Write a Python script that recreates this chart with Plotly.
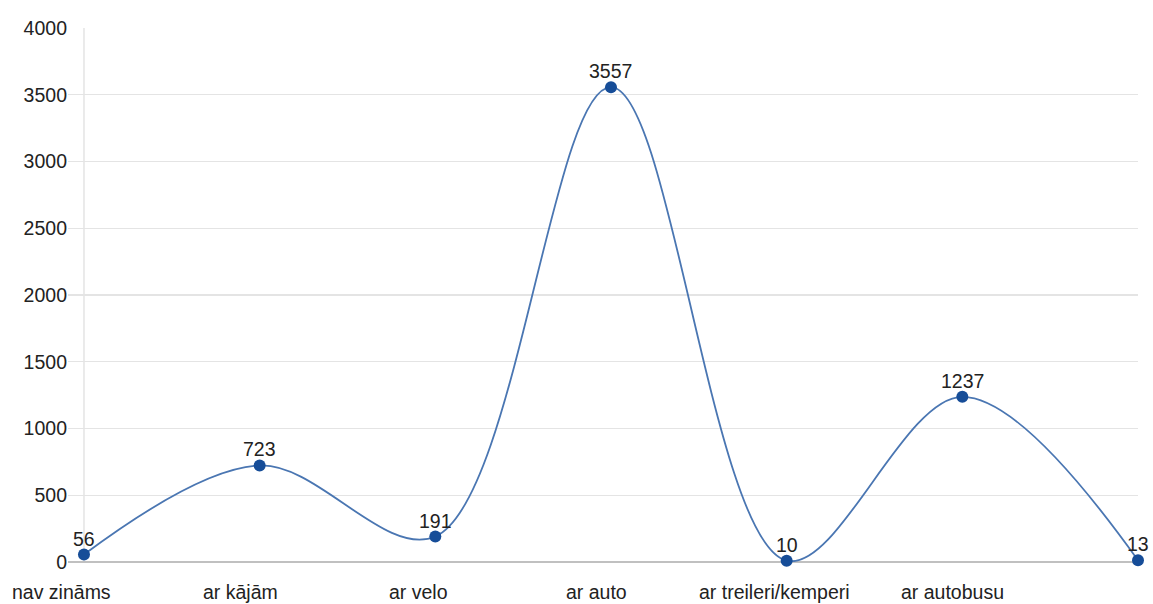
import plotly.graph_objects as go

categories = ["nav zināms", "ar kājām", "ar velo", "ar auto", "ar treileri/kemperi", "ar autobusu", ""]
values = [56, 723, 191, 3557, 10, 1237, 13]
y_ticks = [0, 500, 1000, 1500, 2000, 2500, 3000, 3500, 4000]

FONT = "Liberation Sans, Arial, sans-serif"
TXT = "#222222"
xs = list(range(len(categories)))

fig = go.Figure()
fig.add_trace(go.Scatter(
    x=xs, y=values, mode="lines+markers",
    line=dict(color="#4a76b2", width=1.8, shape="spline", smoothing=1.0),
    marker=dict(color="#164d98", size=12),
    cliponaxis=False, hoverinfo="skip", showlegend=False,
))

# data labels above points
for i, v in enumerate(values):
    fig.add_annotation(x=i, y=v, xref="x", yref="y", text=str(v), showarrow=False,
                       yshift=16, font=dict(family=FONT, size=19.5, color=TXT))

# category labels below the axis
for i, c in enumerate(categories):
    if c:
        fig.add_annotation(x=i, y=0, yref="y", xref="x", text=c, showarrow=False,
                           yshift=-30, xshift=-22 + 2.53 * i,
                           font=dict(family=FONT, size=19.5, color=TXT))

# vertical baseline at first category
fig.add_shape(type="line", x0=0, x1=0, y0=0, y1=4000, xref="x", yref="y",
              line=dict(color="#e4e4e4", width=1.5), layer="below")

fig.update_layout(
    width=1153, height=604,
    margin=dict(l=68, r=15, t=28, b=42),
    paper_bgcolor="white", plot_bgcolor="white",
    font=dict(family=FONT, size=19.5, color=TXT),
    xaxis=dict(range=[-0.091, 6], showgrid=False, zeroline=False, showticklabels=False,
               showline=False, fixedrange=True),
    yaxis=dict(range=[0, 4000], tickvals=y_ticks, showgrid=True, gridcolor="#e4e4e4",
               gridwidth=1.2, zeroline=True, zerolinecolor="#c0c0c0", zerolinewidth=1.5,
               showline=False, ticks="", ticklabelstandoff=0, fixedrange=True,
               tickfont=dict(family=FONT, size=19.5, color=TXT)),
)

fig.write_html("out.html", config={"displayModeBar": False, "staticPlot": True},
               post_script="document.body.style.margin='0';document.body.style.overflow='hidden';")
